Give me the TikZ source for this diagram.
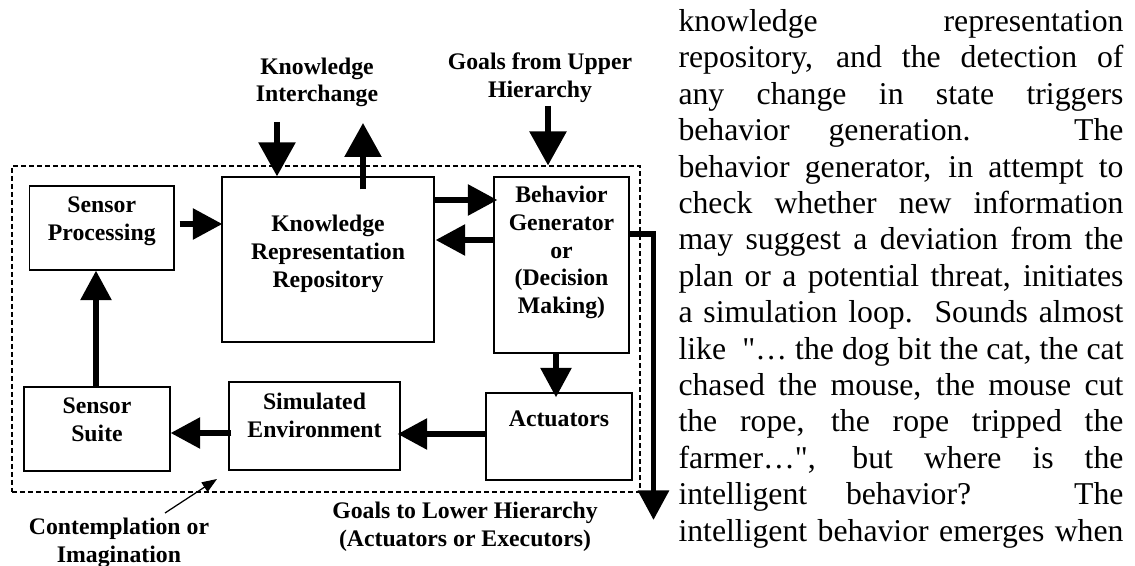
\documentclass[tikz,border=0pt]{standalone}
\usepackage{fontspec}
\setmainfont{Liberation Serif}[Ligatures=TeXOff]
\usetikzlibrary{calc,arrows.meta}

\tikzset{
  box/.style={draw, line width=0.5pt, inner sep=0pt},
  lbl/.style={font=\bfseries\fontsize{9.5}{11.1}\selectfont, align=center, inner sep=0pt},
  body/.style={font=\fontsize{12.7}{14.56}\selectfont, align=left, inner sep=0pt},
  bigarrow/.style={line width=2.3pt, -{Triangle[length=13.6pt,width=14.4pt]}},
  flow/.style={line width=2.3pt, -{Triangle[length=11.8pt,width=12pt]}},
  thinarrow/.style={line width=0.5pt, -{Triangle[length=6pt,width=4.5pt]}},
}
\newcommand{\fullline}[1]{\makebox[178pt][s]{#1}}

\begin{document}
\begin{tikzpicture}[x=0.4pt,y=-0.4pt]
        \useasboundingbox (0,0) rectangle (1135,566);

        % contemplation loop
        \node[draw, dash pattern=on 2pt off 1.2pt, line width=0.45pt, minimum width=251.2pt, minimum height=130.4pt] (loop) at (326,329) {};

        \node[box, minimum width=57.8pt, minimum height=33.6pt, label={[lbl,yshift=2.7pt]center:Sensor\\Processing}] (sp) at (101.75,228) {};
        \node[box, minimum width=84.8pt, minimum height=66pt, label={[lbl,yshift=2.2pt]center:Knowledge\\Representation\\Repository}] (krr) at (328,259.5) {};
        \node[box, minimum width=54pt, minimum height=70.4pt, label={[lbl,yshift=5pt]center:Behavior\\Generator\\or\\(Decision\\Making)}] (bg) at (561.5,265) {};
        \node[box, minimum width=58.4pt, minimum height=33.6pt, label={[lbl,yshift=3.7pt]center:Sensor\\Suite}] (ss) at (97,429) {};
        \node[box, minimum width=68.4pt, minimum height=35.2pt, label={[lbl,yshift=4.2pt]center:Simulated\\Environment}] (se) at (314.5,426) {};
        \node[box, minimum width=58.4pt, minimum height=34.8pt, label={[lbl,yshift=7pt]center:Actuators}] (act) at (559,436.5) {};

        \node[lbl] (ki) at (317,82.5) {Knowledge\\Interchange};
        \node[lbl] (upper) at (540,77.6) {Goals from Upper\\Hierarchy};
        \node[lbl] (cont) at (119,543) {Contemplation or\\Imagination};
        \node[lbl] (lower) at (465,527) {Goals to Lower Hierarchy\\(Actuators or Executors)};

        \coordinate (kiin) at (277,122);
        \coordinate (kiout) at (363,123);
        \coordinate (upgoal) at (548,106);
        \coordinate (lowgoal) at (653.5,520);
        \coordinate (dream) at (165,513);
        \coordinate (dreamtip) at (217,479);

        \draw[bigarrow] (kiin) -- (kiin |- krr.north);
        \draw[bigarrow] ($(kiout |- krr.north)+(0,13)$) -- (kiout);
        \draw[bigarrow] (upgoal) -- (upgoal |- loop.north);

        \draw[flow] ($(sp.east |- 0,224)+(5,0)$) -- ($(krr.west |- 0,224)+(1,0)$);
        \draw[flow] (krr.east |- 0,200) -- ($(bg.west |- 0,200)+(4,0)$);
        \draw[flow] (bg.west |- 0,240) -- ($(krr.east |- 0,240)+(1,0)$);
        \draw[flow] ($(bg.north east)+(0,58)$) -| (lowgoal);

        \draw[flow] (bg.south -| 556,0) -- ($(act.north -| 556,0)+(0,5)$);
        \draw[flow] (act.west |- 0,434) -- ($(se.east |- 0,434)+(-3,0)$);
        \draw[flow] ($(se.west |- 0,433)+(3,0)$) -- (ss.east |- 0,433);
        \draw[flow] (ss.north -| 96,0) -- (sp.south -| 96,0);

        \draw[thinarrow] (dream) -- (dreamtip);

        \node[body, anchor=north west] (para) at (678,9) {%
          \fullline{knowledge representation}\\
          \fullline{repository, and the detection of}\\
          \fullline{any change in state triggers}\\
          \fullline{behavior generation. The}\\
          \fullline{behavior generator, in attempt to}\\
          \fullline{check whether new information}\\
          \fullline{may suggest a deviation from the}\\
          \fullline{plan or a potential threat, initiates}\\
          \fullline{a simulation loop.\ \ Sounds almost}\\
          \fullline{like\ \ "… the dog bit the cat, the cat}\\
          \fullline{chased the mouse, the mouse cut}\\
          \fullline{the rope, the rope tripped the}\\
          \fullline{farmer…", but where is the}\\
          \fullline{intelligent behavior? The}\\
          \fullline{intelligent behavior emerges when}};
\end{tikzpicture}
\end{document}
